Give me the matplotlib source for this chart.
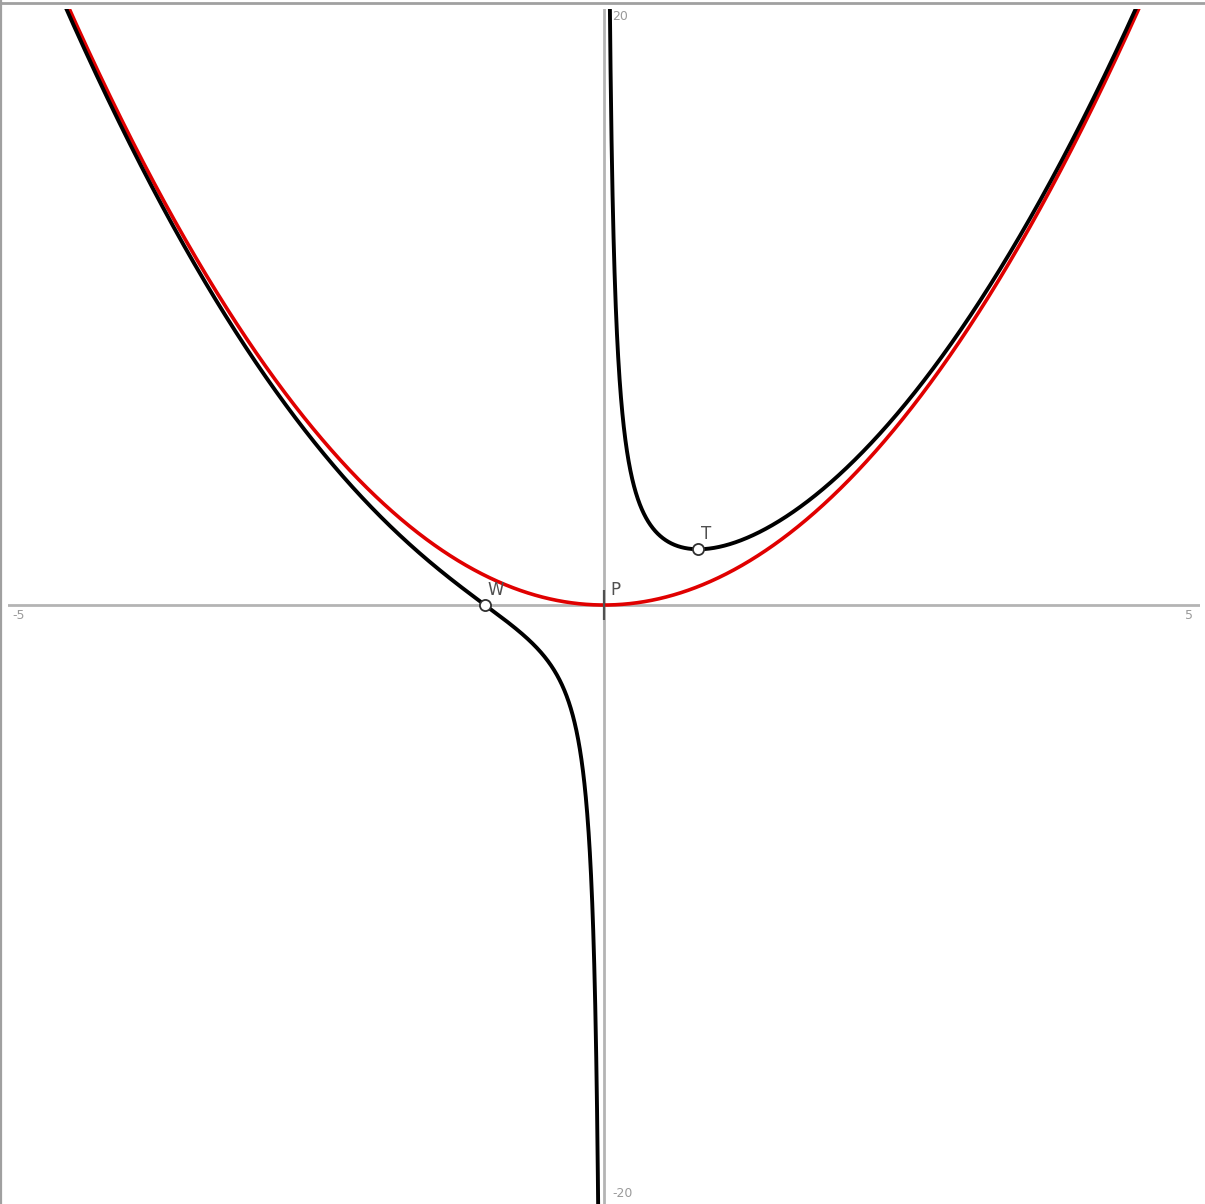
import numpy as np
import matplotlib
matplotlib.use('agg')
import matplotlib.pyplot as plt

# curves: black f(x) = x^2 + 1/x, red g(x) = x^2
X_MIN, X_MAX = -5, 5
Y_MIN, Y_MAX = -20, 20

point_names = ['W', 'T', 'P']
point_x = [-1.0, 0.7937, 0.0]
point_y = [0.0, 1.8899, 0.0]

AXIS_GRAY = '#b4b4b4'
LABEL_GRAY = '#9a9a9a'
W_PX, H_PX = 1205, 1204


def f_black(x):
    return x ** 2 + 1.0 / x


def f_red(x):
    return x ** 2


fig = plt.figure(figsize=(W_PX / 100, H_PX / 100), dpi=100)
# plotting region: pixels 8..1200 horizontally, 9..1204 vertically
ax = fig.add_axes([8 / W_PX, 0, 1192 / W_PX, 1195 / H_PX])
ax.set_xlim(-5.01, 5.01)
ax.set_ylim(-20.3, 20.2)
ax.axis('off')

# axes
ax.axhline(0, color=AXIS_GRAY, lw=2, zorder=1)
ax.axvline(0, color=AXIS_GRAY, lw=2, zorder=1)

# tick labels
tp = dict(color=LABEL_GRAY, fontsize=9)
ax.text(X_MIN + 0.03, -0.15, '-5', ha='left', va='top', **tp)
ax.text(X_MAX - 0.05, -0.15, '5', ha='right', va='top', **tp)
ax.text(0.07, Y_MAX - 0.05, '20', ha='left', va='center', **tp)
ax.text(0.07, Y_MIN + 0.05, '-20', ha='left', va='center', **tp)

# red parabola
xr = np.linspace(-5.1, 5.1, 2000)
ax.plot(xr, f_red(xr), color='#e00000', lw=2.6, zorder=3)

# black curve, two branches
xl = np.linspace(-5.1, -0.045, 3000)
xp = np.linspace(0.045, 5.1, 3000)
ax.plot(xl, f_black(xl), color='black', lw=2.8, zorder=4)
ax.plot(xp, f_black(xp), color='black', lw=2.8, zorder=4)

# points
for name, px, py in zip(point_names, point_x, point_y):
    if name == 'P':
        ax.plot([px], [py], marker='|', ms=22, mew=1.6, color='#505050', zorder=5)
        ax.text(px + 0.05, py + 0.2, name, color='#505050', fontsize=12,
                ha='left', va='bottom')
    else:
        ax.plot([px], [py], marker='o', ms=8, mfc='white', mec='#303030',
                mew=1.3, zorder=6)
        ax.text(px + 0.02, py + 0.2, name, color='#505050', fontsize=12,
                ha='left', va='bottom')

# image border (top and left)
fig.add_artist(plt.Line2D([0, 1], [0.9975, 0.9975], color='#a0a0a0', lw=2,
                          transform=fig.transFigure))
fig.add_artist(plt.Line2D([0.0012, 0.0012], [0, 1], color='#a0a0a0', lw=1.6,
                          transform=fig.transFigure))

fig.savefig('out.png', dpi=100, facecolor='white')
